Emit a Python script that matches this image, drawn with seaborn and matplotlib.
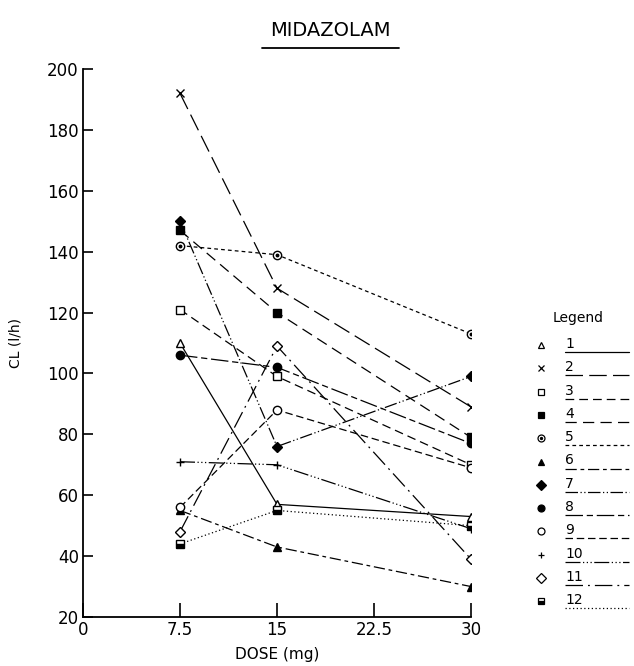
import matplotlib
matplotlib.use("Agg")
import matplotlib.pyplot as plt
import matplotlib.lines as mlines
import seaborn as sns
import pandas as pd

# Daten
dose = [7.5, 15, 30]
subjects = ["1", "2", "3", "4", "5", "6", "7", "8", "9", "10", "11", "12"]
cl1 = [110, 57, 53]
cl2 = [192, 128, 89]
cl3 = [121, 99, 70]
cl4 = [147, 120, 79]
cl5 = [142, 139, 113]
cl6 = [55, 43, 30]
cl7 = [150, 76, 99]
cl8 = [106, 102, 77]
cl9 = [56, 88, 69]
cl10 = [71, 70, 49]
cl11 = [48, 109, 39]
cl12 = [44, 55, 50]
allCl = [cl1, cl2, cl3, cl4, cl5, cl6, cl7, cl8, cl9, cl10, cl11, cl12]

xTicks = [0, 7.5, 15, 22.5, 30]
xTickLabels = ["0", "7.5", "15", "22.5", "30"]
yTicks = list(range(20, 201, 20))

rows = []
for s, vals in zip(subjects, allCl):
    for d, v in zip(dose, vals):
        rows.append({"subject": s, "dose": d, "cl": v})
df = pd.DataFrame(rows)

# Stile: marker, facecolor, linestyle, fillstyle
styles = {
    "1": ("^", "white", "-", "full"),
    "2": ("x", "black", (0, (14, 5)), "full"),
    "3": ("s", "white", (0, (7, 4)), "full"),
    "4": ("s", "black", (0, (9, 5)), "full"),
    "5": ("o", "white", (0, (3, 2.5)), "full"),
    "6": ("^", "black", (0, (9, 3, 3, 3)), "full"),
    "7": ("D", "black", (0, (10, 2, 1, 2, 1, 2)), "full"),
    "8": ("o", "black", (0, (14, 3, 5, 3)), "full"),
    "9": ("o", "white", (0, (6, 3)), "full"),
    "10": ("+", "black", (0, (12, 2, 1, 2, 1, 2, 1, 2)), "full"),
    "11": ("D", "white", (0, (14, 4, 1.5, 4)), "full"),
    "12": ("s", "black", (0, (1, 2)), "bottom"),
}

sns.set_style("ticks")
plt.rcParams["font.family"] = ["DejaVu Sans"]
plt.rcParams["text.color"] = "black"

fig = plt.figure(figsize=(6.34, 6.66), dpi=100)
ax = fig.add_axes([83 / 634, 1 - 617 / 666, 388 / 634, 548 / 666])

for s in subjects:
    m, fc, ls, fs = styles[s]
    sub = df[df["subject"] == s]
    ms = 6 if m != "D" else 5.5
    sns.lineplot(data=sub, x="dose", y="cl", ax=ax, color="black", linewidth=0.9,
                 linestyle=ls, marker=m, markersize=ms, markerfacecolor=fc,
                 markeredgecolor="black", markeredgewidth=1.0, fillstyle=fs,
                 markerfacecoloralt="white")
    if s == "5":
        ax.plot(sub["dose"], sub["cl"], linestyle="none", marker="o", markersize=1.8,
                color="black")

ax.set_xlim(0, 30)
ax.set_ylim(20, 200)
ax.set_xticks(xTicks)
ax.set_xticklabels(xTickLabels)
ax.set_yticks(yTicks)
ax.tick_params(axis="x", direction="in", length=10, width=1.2, labelsize=12, pad=3,
               colors="black")
ax.tick_params(axis="y", direction="in", length=7, width=1.2, labelsize=12, pad=3,
               colors="black")
for side in ["top", "right"]:
    ax.spines[side].set_visible(False)
for side in ["left", "bottom"]:
    ax.spines[side].set_linewidth(1.3)
    ax.spines[side].set_color("black")
ax.set_xlabel("DOSE (mg)", fontsize=11, color="black")
ax.set_ylabel("CL (l/h)", fontsize=10, color="black")
ax.xaxis.set_label_coords(0.5, -0.055)
ax.yaxis.set_label_coords(-0.155, 0.5)

# Titel mit Unterstrich
fig.text(330 / 634, 1 - 30 / 666, "MIDAZOLAM", ha="center", va="center", fontsize=14,
         color="black")
fig.add_artist(mlines.Line2D([262 / 634, 399 / 634], [1 - 48 / 666, 1 - 48 / 666],
                             color="black", linewidth=1.3, transform=fig.transFigure))

# Legende rechts
fig.text(578 / 634, 1 - 318 / 666, "Legend", ha="center", va="center", fontsize=10,
         color="black")
for i, s in enumerate(subjects):
    m, fc, ls, fs = styles[s]
    yPix = 345 + 23.3 * i
    yFig = 1 - yPix / 666
    fig.add_artist(mlines.Line2D([541 / 634], [yFig], marker=m, markersize=5,
                                 markerfacecolor=fc, markeredgecolor="black",
                                 markeredgewidth=0.9, fillstyle=fs,
                                 markerfacecoloralt="white", color="black",
                                 linestyle="none", transform=fig.transFigure))
    if s == "5":
        fig.add_artist(mlines.Line2D([541 / 634], [yFig], marker="o", markersize=1.4,
                                     color="black", linestyle="none",
                                     transform=fig.transFigure))
    lineY = 1 - (yPix + 7) / 666
    fig.text(565 / 634, lineY + 1 / 666, s, ha="left", va="bottom", fontsize=10,
             color="black")
    fig.add_artist(mlines.Line2D([565 / 634, 629 / 634], [lineY, lineY], color="black",
                                 linewidth=0.9, linestyle=ls, transform=fig.transFigure))

plt.savefig("out.png", dpi=100)
plt.close("all")
